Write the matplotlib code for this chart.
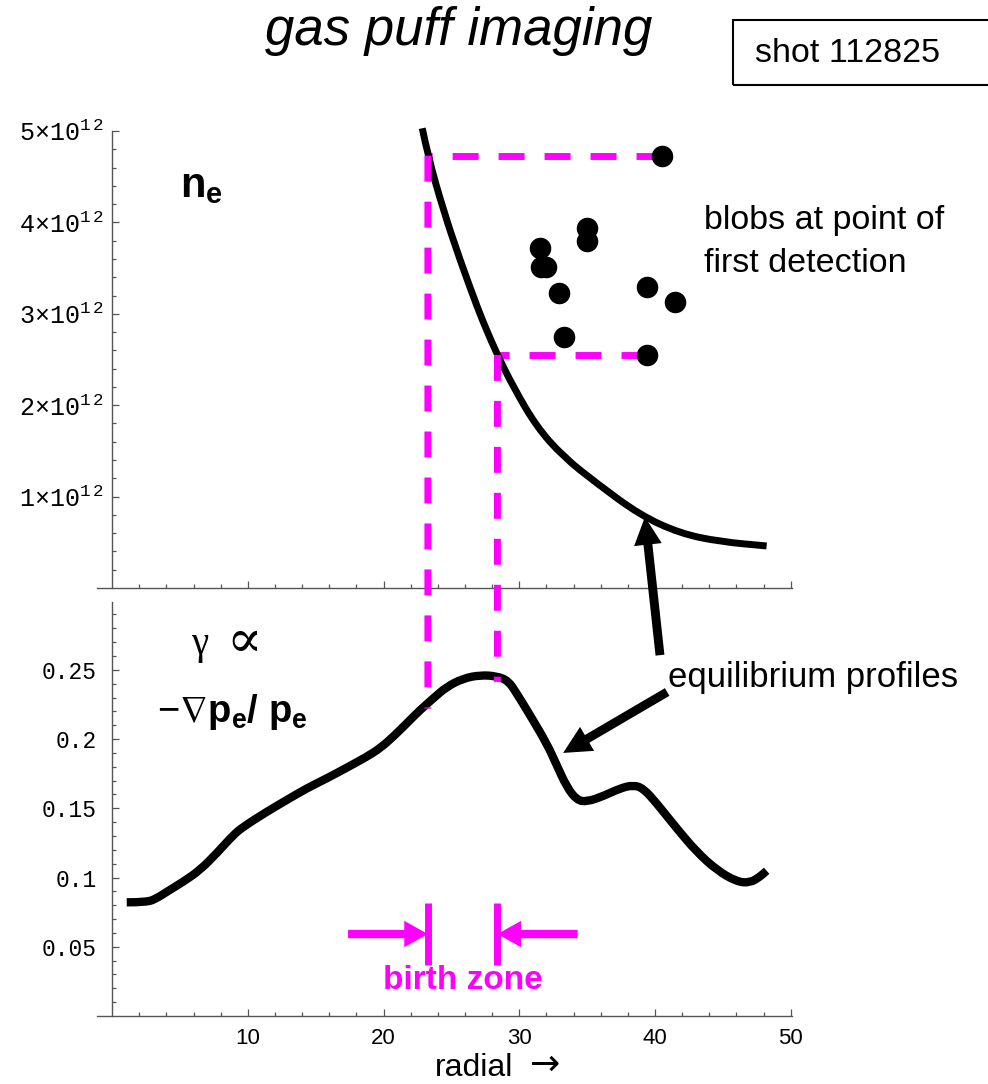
import numpy as np
import matplotlib
matplotlib.use("Agg")
import matplotlib.pyplot as plt
from matplotlib.patches import ConnectionPatch, Rectangle, PathPatch
from matplotlib.path import Path

plt.rcParams['mathtext.fontset'] = 'custom'
plt.rcParams['mathtext.rm'] = 'Liberation Sans'
plt.rcParams['mathtext.bf'] = 'Liberation Sans:bold'
plt.rcParams['mathtext.it'] = 'Liberation Sans:italic'
plt.rcParams['mathtext.tt'] = 'Liberation Mono'
plt.rcParams['mathtext.fallback'] = 'stixsans'

# ---------------- data ----------------
# density profile n_e (top panel), units of 1e12
ne_x = [22.85, 23.27, 24.40, 25.63, 26.98, 27.59, 28.33, 29.55, 31.27, 33.24,
        35.71, 38.89, 41.84, 44.79, 48.23]
ne_y = [5.030, 4.726, 4.136, 3.589, 3.042, 2.823, 2.568, 2.203, 1.765, 1.437,
        1.145, 0.799, 0.598, 0.507, 0.460]
ne_y = [v * 1e12 for v in ne_y]

# blobs at point of first detection
blob_x = [40.5, 35.0, 35.0, 31.5, 31.6, 32.0, 32.9, 39.4, 41.5, 33.3, 39.4]
blob_y = [4.73, 3.94, 3.80, 3.72, 3.51, 3.51, 3.23, 3.29, 3.13, 2.75, 2.55]
blob_y = [v * 1e12 for v in blob_y]

# the two blobs that bound the birth zone
mark_x = [40.5, 39.4]
mark_y = [4.73e12, 2.55e12]

# growth-rate profile (bottom panel)
g_x = [1.07, 2.54, 3.28, 4.02, 5.24, 6.47, 7.70, 8.92, 9.66, 11.39, 12.86, 14.33,
       15.81, 17.28, 18.75, 19.73, 20.71, 21.70, 22.68, 23.66, 24.65, 25.87, 27.10,
       28.33, 29.19, 29.81, 30.79, 32.02, 32.76, 33.49, 34.23, 34.97, 36.19, 37.42,
       38.40, 39.14, 40.13, 41.60, 43.07, 44.55, 46.02, 47.00, 47.74, 48.23]
g_y = [0.0821, 0.0821, 0.0850, 0.0897, 0.0970, 0.1054, 0.1175, 0.1307, 0.1367, 0.1475,
       0.1560, 0.1644, 0.1716, 0.1793, 0.1872, 0.1933, 0.2017, 0.2113, 0.2209, 0.2294,
       0.2378, 0.2438, 0.2462, 0.2455, 0.2421, 0.2330, 0.2173, 0.1969, 0.1812, 0.1656,
       0.1560, 0.1547, 0.1588, 0.1644, 0.1668, 0.1644, 0.1536, 0.1355, 0.1186, 0.1054,
       0.0970, 0.0962, 0.1006, 0.1049]

ne_ticks = [1e12, 2e12, 3e12, 4e12, 5e12]
ne_ticklabels = [r'$\mathtt{1{\times}10^{1\,2}}$', r'$\mathtt{2{\times}10^{1\,2}}$',
                 r'$\mathtt{3{\times}10^{1\,2}}$', r'$\mathtt{4{\times}10^{1\,2}}$',
                 r'$\mathtt{5{\times}10^{1\,2}}$']
g_ticks = [0.05, 0.1, 0.15, 0.2, 0.25]
g_ticklabels = ['0.05', '0.1', '0.15', '0.2', '0.25']
x_ticks = [10, 20, 30, 40, 50]
x_ticklabels = ['10', '20', '30', '40', '50']

# ---------------- figure ----------------
W, H = 988, 1084
fig = plt.figure(figsize=(W / 100, H / 100), dpi=100)


def fpx(x, y):
    return x / W, 1 - y / H


def smooth_path(xs, ys):
    pts = list(zip(xs, ys))
    verts = [pts[0]]
    codes = [Path.MOVETO]
    for i in range(1, len(pts) - 1):
        mid = ((pts[i][0] + pts[i + 1][0]) / 2, (pts[i][1] + pts[i + 1][1]) / 2)
        verts += [pts[i], mid]
        codes += [Path.CURVE3, Path.CURVE3]
    verts.append(pts[-1])
    codes.append(Path.LINETO)
    return Path(verts, codes)


MAG = '#FF00FF'
AXC = '#555555'
x0px, x1px = 97.3, 792.0
ax1 = fig.add_axes([x0px / W, 1 - 588 / H, (x1px - x0px) / W, (588 - 131) / H])
ax2 = fig.add_axes([x0px / W, 1 - 1016 / H, (x1px - x0px) / W, (1016 - 602) / H])

for ax in (ax1, ax2):
    ax.set_xlim(-1.1, 50.1)
    ax.patch.set_alpha(0)
    for s in ('top', 'right'):
        ax.spines[s].set_visible(False)
    ax.spines['left'].set_position(('data', 0))
    for s in ('left', 'bottom'):
        ax.spines[s].set_color(AXC)
        ax.spines[s].set_linewidth(1.0)
    ax.tick_params(which='both', direction='in', color=AXC, width=0.9)
    ax.tick_params(which='major', length=5)
    ax.tick_params(which='minor', length=3)
    ax.set_xticks(x_ticks)
    ax.set_xticks(np.arange(2, 50, 2), minor=True)

ax1.set_ylim(0, 5e12)
ax1.set_yticks(ne_ticks)
ax1.set_yticklabels(ne_ticklabels, fontsize=18)
ax1.set_yticks(np.arange(0.2e12, 5e12, 0.2e12), minor=True)
ax1.set_xticklabels([])
ax1.tick_params(axis='y', pad=6)

ax2.set_ylim(0, 0.299)
ax2.set_yticks(g_ticks)
ax2.set_yticklabels(g_ticklabels, family='Liberation Mono', fontsize=16.5)
ax2.set_yticks(np.arange(0.01, 0.295, 0.01), minor=True)
ax2.set_xticklabels(x_ticklabels, family='Liberation Sans', fontsize=16)
ax2.tick_params(axis='y', pad=11)
ax2.tick_params(axis='x', pad=9)

# curves
ax1.add_patch(PathPatch(smooth_path(ne_x, ne_y), fill=False, ec='black', lw=5,
                        joinstyle='round', capstyle='butt', clip_on=False, zorder=4))
ax1.plot(blob_x, blob_y, 'o', color='black', ms=14.5, clip_on=False, zorder=6)
ax2.add_patch(PathPatch(smooth_path(g_x, g_y), fill=False, ec='black', lw=6,
                        joinstyle='round', capstyle='butt', clip_on=False, zorder=4))

# dashed magenta guide lines
dash = (0, (3.74, 2.88))
cross_x = []
for bx, by in zip(mark_x, mark_y):
    xc = float(np.interp(by, ne_y[::-1], ne_x[::-1]))
    cross_x.append(xc)
    ax1.plot([bx, xc], [by, by], color=MAG, lw=5, linestyle=dash,
             dash_capstyle='butt', zorder=3, clip_on=False)
    gy = float(np.interp(xc, g_x, g_y))
    con = ConnectionPatch(xyA=(xc, by), coordsA=ax1.transData,
                          xyB=(xc, gy - 0.004), coordsB=ax2.transData,
                          color=MAG, lw=5, linestyle=dash, capstyle='butt', zorder=2)
    fig.add_artist(con)

# birth zone markers
for xc in cross_x:
    ax2.plot([xc, xc], [0.0368, 0.0816], color=MAG, lw=5, solid_capstyle='butt')
mstyle = 'simple,head_length=0.85,head_width=0.95,tail_width=0.3'
ax2.annotate('', xy=(cross_x[0], 0.0592), xytext=(17.38, 0.0592),
             arrowprops=dict(arrowstyle=mstyle, mutation_scale=20, fc=MAG, ec=MAG, lw=0,
                             shrinkA=0, shrinkB=0))
ax2.annotate('', xy=(cross_x[1], 0.0592), xytext=(34.3, 0.0592),
             arrowprops=dict(arrowstyle=mstyle, mutation_scale=20, fc=MAG, ec=MAG, lw=0,
                             shrinkA=0, shrinkB=0))
ax2.text(sum(cross_x) / 2, 0.0195, 'birth zone', color=MAG, fontsize=24,
         fontweight='bold', family='Liberation Sans', ha='center', va='baseline')

# black arrows
kstyle = 'simple,head_length=1.0,head_width=1.0,tail_width=0.32'
ax1.annotate('', xy=(39.26, 0.777e12), xycoords=ax1.transData,
             xytext=(40.37, 0.2606), textcoords=ax2.transData,
             arrowprops=dict(arrowstyle=kstyle, mutation_scale=20, fc='black', ec='black',
                             lw=0, shrinkA=0, shrinkB=0), annotation_clip=False)
ax2.annotate('', xy=(33.23, 0.190), xytext=(40.9, 0.234),
             arrowprops=dict(arrowstyle=kstyle, mutation_scale=20, fc='black', ec='black',
                             lw=0, shrinkA=0, shrinkB=0), annotation_clip=False)

# texts
fig.text(*fpx(459, 31), 'gas puff imaging', fontsize=38, style='italic',
         family='Liberation Sans', ha='center', va='center')
fig.add_artist(Rectangle(fpx(733, 85), (1000 - 733) / W, 65 / H, transform=fig.transFigure,
                         fill=False, ec='black', lw=1.5))
fig.text(*fpx(755, 53), 'shot 112825', fontsize=24.5, family='Liberation Sans',
         ha='left', va='center')
fig.text(*fpx(180, 197), r'$\mathbf{n_e}$', fontsize=30, ha='left', va='baseline')
fig.text(*fpx(191, 654), '\u03b3', fontsize=28, family='Liberation Serif',
         ha='left', va='baseline')
fig.text(*fpx(226, 657), '\u221d', fontsize=38, family='DejaVu Serif',
         ha='left', va='baseline')
fig.text(*fpx(157, 722), r'$-\nabla\mathbf{p_e/\ p_e}$', fontsize=27.5, ha='left',
         va='baseline')
fig.text(*fpx(704, 229), 'blobs at point of', fontsize=24.5, family='Liberation Sans',
         ha='left', va='baseline')
fig.text(*fpx(704, 272), 'first detection', fontsize=24.5, family='Liberation Sans',
         ha='left', va='baseline')
fig.text(*fpx(668, 687), 'equilibrium profiles', fontsize=25, family='Liberation Sans',
         ha='left', va='baseline')
fig.text(*fpx(435, 1076), 'radial', fontsize=23, family='Liberation Sans',
         ha='left', va='baseline')
fig.text(*fpx(545, 1075), '\u2192', fontsize=26, family='DejaVu Sans',
         ha='center', va='baseline')

fig.savefig('out.png', dpi=100)
